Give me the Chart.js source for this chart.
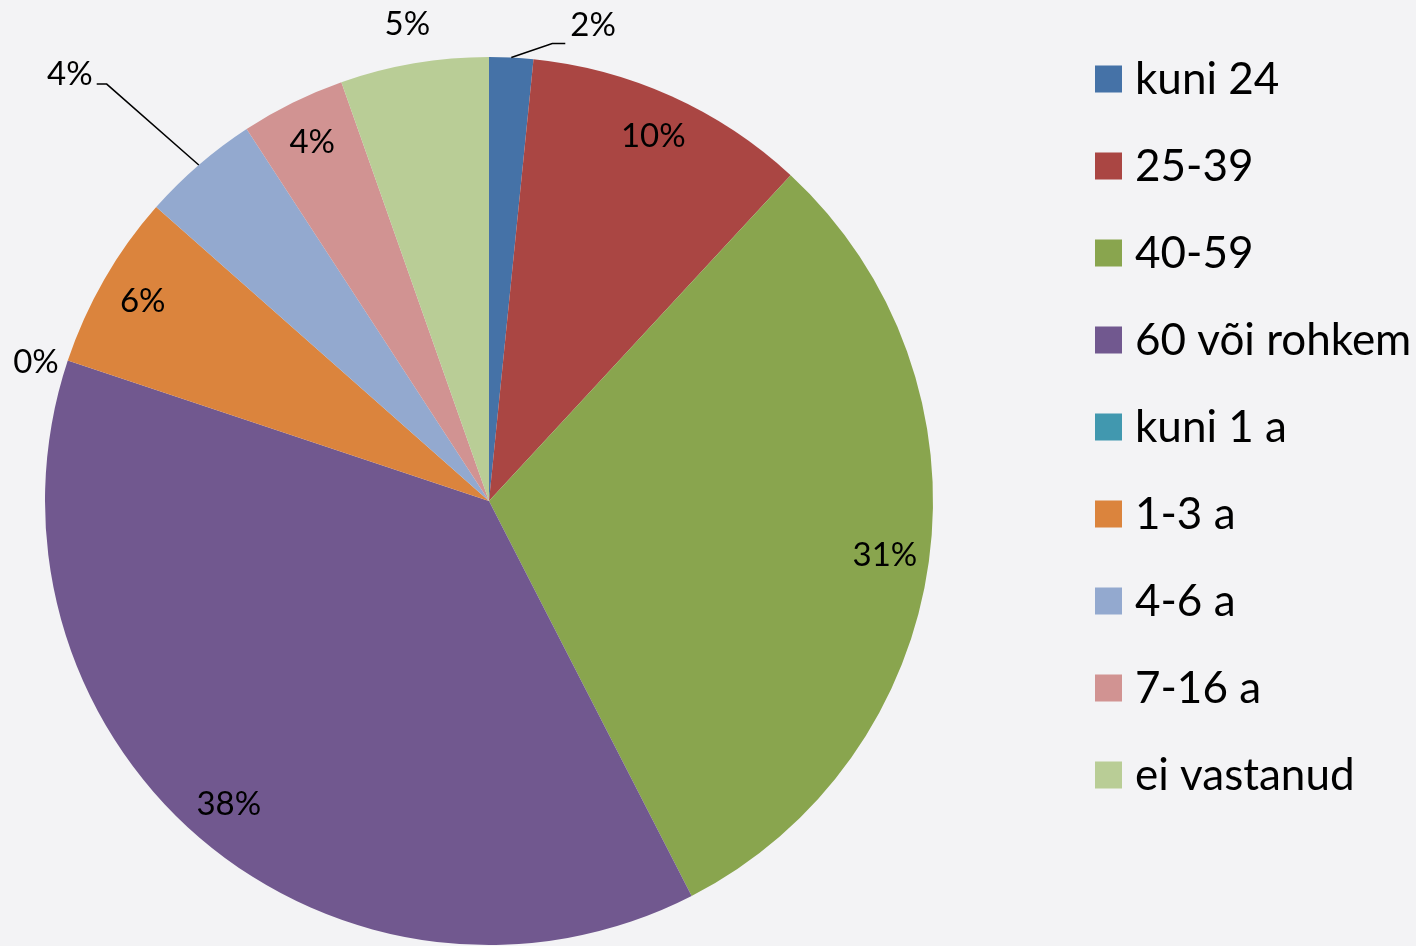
<!DOCTYPE html>
<html>
<head>
<meta charset="utf-8">
<script src="https://cdn.jsdelivr.net/npm/chart.js@4"></script>
<style>
  html, body { margin: 0; padding: 0; background: #f3f3f5; }
  canvas { display: block; }
</style>
</head>
<body>
<canvas id="pieChart" width="1416" height="946"></canvas>
<script>
// vanuserühmad
var categories = ['kuni 24', '25-39', '40-59', '60 või rohkem', 'kuni 1 a', '1-3 a', '4-6 a', '7-16 a', 'ei vastanud'];
var shares = [1.6, 10.3, 30.6, 37.7, 0, 6.4, 4.3, 3.8, 5.4];
var colors = ['#4572a7', '#aa4643', '#89a54e', '#71588f', '#4198af', '#db843d', '#93a9cf', '#d19392', '#b9cd96'];

// label placement: factor of radius, angle shift in degrees, callout (elbow + tail)
var labelPos = [
  { r: 1.04, da: 5, tail: 13, dx: 18, dy: -18 },
  { r: 0.9 }, { r: 0.9 }, { r: 0.9 },
  { r: 1.067, da: -1.4 },
  { r: 0.9 },
  { r: 1.274, da: -1.7, tail: -10, dx: -14, dy: -10 },
  { r: 0.9 },
  { r: 1.09 }
];

var FONT = 'Lato, "Open Sans", sans-serif';

var pieLabels = {
  id: 'pieLabels',
  afterDatasetsDraw: function (chart) {
    var ctx = chart.ctx;
    var meta = chart.getDatasetMeta(0);
    var data = chart.data.datasets[0].data;
    var total = data.reduce(function (a, b) { return a + b; }, 0);
    ctx.save();
    ctx.fillStyle = '#000';
    ctx.font = '33px ' + FONT;
    ctx.textBaseline = 'middle';
    meta.data.forEach(function (arc, i) {
      var p = arc.getProps(['x', 'y', 'startAngle', 'endAngle', 'outerRadius'], true);
      var mid = (p.startAngle + p.endAngle) / 2;
      var cfg = labelPos[i];
      var a = mid + (cfg.da || 0) * Math.PI / 180;
      var lx = p.x + Math.cos(a) * p.outerRadius * cfg.r;
      var ly = p.y + Math.sin(a) * p.outerRadius * cfg.r;
      var txt = Math.round(data[i] / total * 100) + '%';
      if (cfg.tail) {
        var sx = p.x + Math.cos(mid) * p.outerRadius;
        var sy = p.y + Math.sin(mid) * p.outerRadius;
        ctx.beginPath();
        ctx.strokeStyle = '#000';
        ctx.lineWidth = 1.5;
        ctx.moveTo(sx, sy);
        ctx.lineTo(lx, ly);
        ctx.lineTo(lx + cfg.tail, ly);
        ctx.stroke();
        ctx.textAlign = cfg.tail > 0 ? 'left' : 'right';
        ctx.fillText(txt, lx + cfg.dx, ly + cfg.dy);
      } else {
        ctx.textAlign = 'center';
        ctx.fillText(txt, lx, ly);
      }
    });
    ctx.restore();
  }
};

var sideLegend = {
  id: 'sideLegend',
  afterDraw: function (chart) {
    var ctx = chart.ctx;
    var ds = chart.data.datasets[0];
    ctx.save();
    ctx.font = '44px ' + FONT;
    ctx.textBaseline = 'middle';
    ctx.textAlign = 'left';
    chart.data.labels.forEach(function (lab, i) {
      var cy = 79 + i * 87;
      ctx.fillStyle = ds.backgroundColor[i];
      ctx.fillRect(1095, cy - 13.5, 27, 27);
      ctx.fillStyle = '#000';
      ctx.fillText(lab, 1135, cy + 1);
    });
    ctx.restore();
  }
};

var ctx = document.getElementById('pieChart').getContext('2d');
var pieChart = new Chart(ctx, {
  type: 'pie',
  data: {
    labels: categories,
    datasets: [{
      data: shares,
      backgroundColor: colors,
      borderWidth: 0
    }]
  },
  options: {
    responsive: false,
    animation: false,
    devicePixelRatio: 1,
    layout: { padding: { left: 0, right: 438, top: 57, bottom: 1 } },
    plugins: {
      legend: { display: false },
      tooltip: { enabled: false }
    }
  },
  plugins: [pieLabels, sideLegend]
});
</script>
</body>
</html>
